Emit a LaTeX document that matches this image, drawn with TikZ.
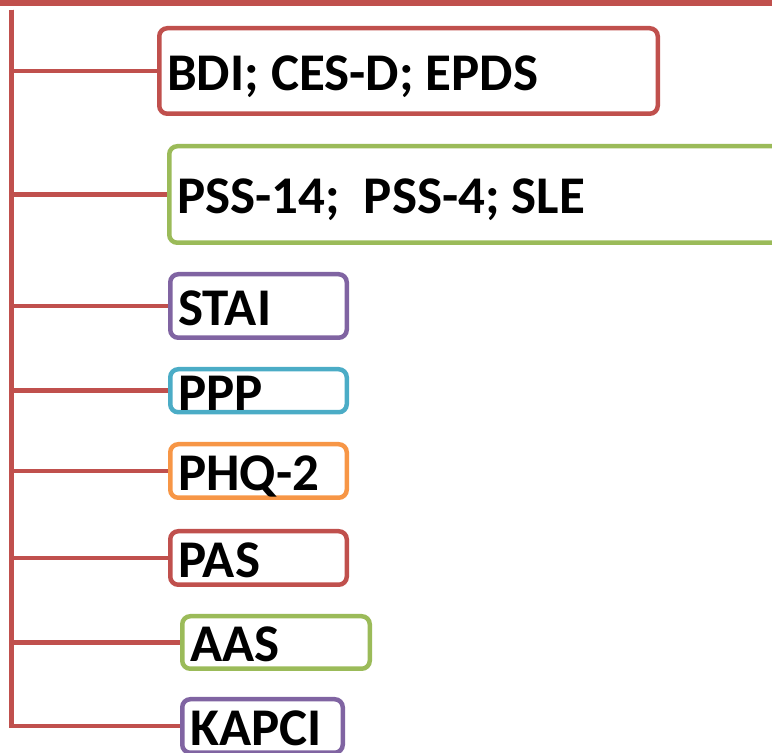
\documentclass[tikz,border=0pt]{standalone}
\usepackage{fontspec}
\setmainfont{Carlito}
\usepackage{tikz}
\definecolor{ofred}{HTML}{C0504D}
\definecolor{ofgreen}{HTML}{9BBB59}
\definecolor{ofpurple}{HTML}{8064A2}
\definecolor{ofteal}{HTML}{4BACC6}
\definecolor{oforange}{HTML}{F79646}
\tikzset{%
  box/.style  = {draw=#1, line width=2.25pt, rounded corners=4pt, rectangle,
    anchor=north west, align=flush left, inner xsep=4pt, inner ysep=0pt,
    text height=20.5pt, text depth=1pt,
    font=\fontsize{26.5}{30}\selectfont\bfseries,
    execute at begin node={\spaceskip=0.226em\relax\xspaceskip=0.226em\relax}},
  link/.style = {draw=ofred, line width=2.25pt}
}

\begin{document}
\begin{tikzpicture}[x=0.5pt, y=-0.5pt]
  \useasboundingbox (0,0) rectangle (772,753);

  \draw[ofred, line width=3.5pt] (0,3) -- (790,3);
  \coordinate (top) at (11.5,10);

  \draw node at (157,26) [box=ofred, minimum height=42.75pt, text width=241.25pt] (bdi) {BDI; CES-D; EPDS};
  \draw node at (167,144) [box=ofgreen, minimum height=48.25pt, text width=300pt] (pss) {PSS-14;\ \ PSS-4; SLE};
  \draw node at (168,272) [box=ofpurple, minimum height=31.75pt, text width=80.25pt] (stai) {STAI};
  \draw node at (168,367) [box=ofteal, minimum height=21.25pt, text width=80.25pt] (ppp) {PPP};
  \draw node at (168,442) [box=oforange, minimum height=26.75pt, text width=80.25pt] (phq) {PHQ-2};
  \draw node at (168,529) [box=ofred, minimum height=26.75pt, text width=80.25pt] (pas) {PAS};
  \draw node at (180,614) [box=ofgreen, minimum height=26.25pt, text width=85.75pt] (aas) {AAS};
  \draw node at (180,697) [box=ofpurple, minimum height=26.75pt, text width=72.25pt] (kapci) {KAPCI};

  \draw[link] (top) |- (kapci.west);
  \foreach \n in {bdi, pss, stai, ppp, phq, pas, aas}
    \draw[link] (top) |- (\n.west);

\end{tikzpicture}
\end{document}
